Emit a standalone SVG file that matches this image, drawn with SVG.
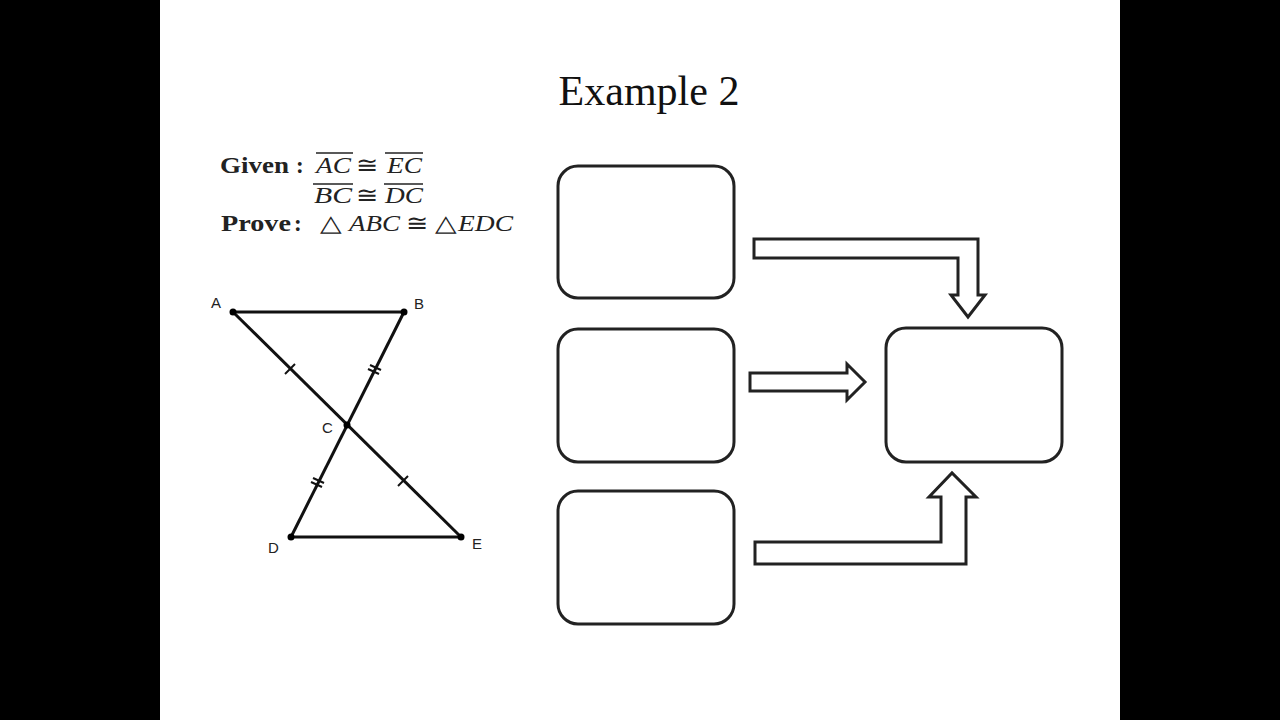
<svg xmlns="http://www.w3.org/2000/svg" width="1280" height="720" viewBox="0 0 1280 720">
<style>
.box{fill:#fff;stroke:#222;stroke-width:3}
.arr{fill:#fff;stroke:#222;stroke-width:3;stroke-linejoin:miter}
.seg{stroke:#111;stroke-width:3;fill:none}
.tick{stroke:#111;stroke-width:2}
.pt{fill:#000}
.lbl{font-family:"Liberation Sans",Arial,sans-serif;font-size:15px;fill:#222}
.m{font-family:"Liberation Serif","Times New Roman",serif;font-size:23px;fill:#222}
.mi{font-style:italic}
.b{font-weight:bold}
.ov{stroke:#222;stroke-width:1.6}
</style>
<rect x="0" y="0" width="1280" height="720" fill="#000"/>
<rect x="160" y="0" width="960" height="720" fill="#fff"/>
<text x="649" y="105" text-anchor="middle" font-family="Liberation Serif,'Times New Roman',serif" font-size="42" fill="#111">Example 2</text>

<g id="given">
<text class="m b" x="220" y="173" textLength="69" lengthAdjust="spacingAndGlyphs">Given</text>
<text class="m b" x="296" y="173">:</text>
<text class="m mi" x="316" y="173" textLength="35" lengthAdjust="spacingAndGlyphs">AC</text>
<line class="ov" x1="316" y1="153" x2="353" y2="153"/>
<text class="m" x="356" y="173" textLength="22" lengthAdjust="spacingAndGlyphs">≅</text>
<text class="m mi" x="387" y="173" textLength="35" lengthAdjust="spacingAndGlyphs">EC</text>
<line class="ov" x1="385" y1="153" x2="423" y2="153"/>
<text class="m mi" x="314" y="203" textLength="38" lengthAdjust="spacingAndGlyphs">BC</text>
<line class="ov" x1="313" y1="184" x2="353" y2="184"/>
<text class="m" x="356" y="203" textLength="22" lengthAdjust="spacingAndGlyphs">≅</text>
<text class="m mi" x="385" y="203" textLength="38" lengthAdjust="spacingAndGlyphs">DC</text>
<line class="ov" x1="384" y1="184" x2="423" y2="184"/>
<text class="m b" x="221" y="231" textLength="70" lengthAdjust="spacingAndGlyphs">Prove</text>
<text class="m b" x="294" y="231">:</text>
<text class="m" x="320" y="231" textLength="22" lengthAdjust="spacingAndGlyphs">△</text>
<text class="m mi" x="349" y="231" textLength="51" lengthAdjust="spacingAndGlyphs">ABC</text>
<text class="m" x="406" y="231" textLength="22" lengthAdjust="spacingAndGlyphs">≅</text>
<text class="m" x="435" y="231" textLength="22" lengthAdjust="spacingAndGlyphs">△</text>
<text class="m mi" x="458" y="231" textLength="55" lengthAdjust="spacingAndGlyphs">EDC</text>
</g>

<g id="figure">
<line class="seg" x1="233" y1="312" x2="404" y2="312"/>
<line class="seg" x1="233" y1="312" x2="461" y2="537"/>
<line class="seg" x1="404" y1="312" x2="291" y2="537"/>
<line class="seg" x1="291" y1="537" x2="461" y2="537"/>
<line class="tick" x1="285" y1="374" x2="295" y2="364"/>
<line class="tick" x1="398" y1="486" x2="408" y2="476"/>
<line class="tick" x1="370" y1="365" x2="381" y2="370"/>
<line class="tick" x1="368" y1="369" x2="379" y2="374"/>
<line class="tick" x1="313" y1="478" x2="324" y2="483"/>
<line class="tick" x1="311" y1="482" x2="322" y2="487"/>
<circle class="pt" cx="233" cy="312" r="3.5"/>
<circle class="pt" cx="404" cy="312" r="3.5"/>
<circle class="pt" cx="347" cy="425" r="3.5"/>
<circle class="pt" cx="291" cy="537" r="3.5"/>
<circle class="pt" cx="461" cy="537" r="3.5"/>
<text class="lbl" x="211" y="308">A</text>
<text class="lbl" x="414" y="309">B</text>
<text class="lbl" x="322" y="433">C</text>
<text class="lbl" x="268" y="553">D</text>
<text class="lbl" x="472" y="549">E</text>
</g>

<g id="box1"><rect class="box" x="558" y="166" width="176" height="132" rx="20"/></g>
<g id="box2"><rect class="box" x="558" y="329" width="176" height="133" rx="20"/></g>
<g id="box3"><rect class="box" x="558" y="491" width="176" height="133" rx="20"/></g>
<g id="box4"><rect class="box" x="886" y="328" width="176" height="134" rx="20"/></g>

<g id="connectors">
<path class="arr" d="M754,239 L978,239 L978,295 L985,295 L968,317 L951,295 L958,295 L958,258 L754,258 Z"/>
<path class="arr" d="M750,373 L847,373 L847,364 L865,382 L847,400 L847,391 L750,391 Z"/>
<path class="arr" d="M755,542 L941,542 L941,497 L929,497 L952,473 L976,497 L966,497 L966,564 L755,564 Z"/>
</g>
</svg>
